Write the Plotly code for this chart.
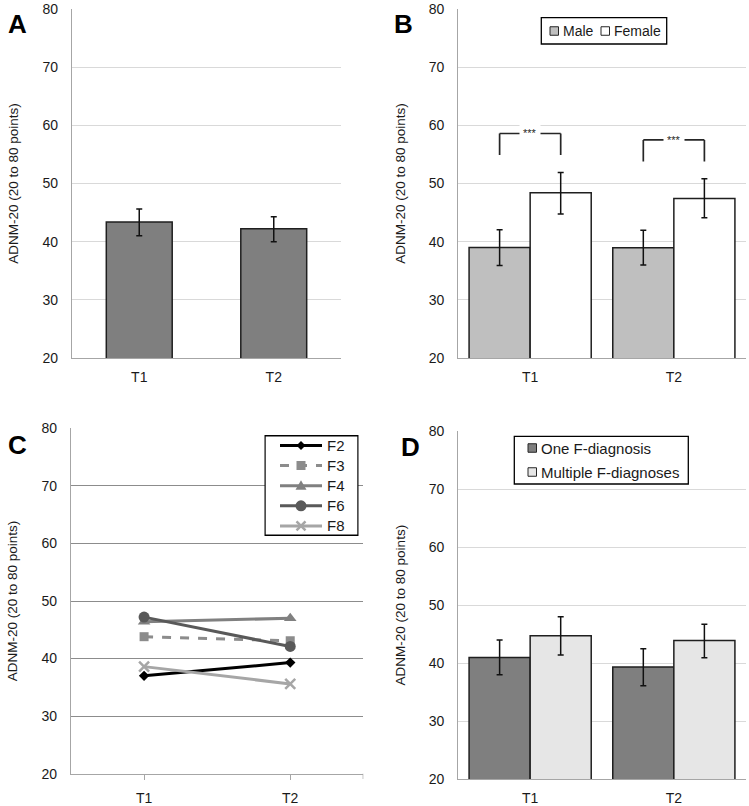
import plotly.graph_objects as go

# ---------------- data ----------------
times = ["T1", "T2"]

# Panel A: total sample
a_mean = [43.4, 42.2]
a_hi = [45.6, 44.3]
a_lo = [41.0, 40.0]

# Panel B: gender
b_male_mean = [39.0, 38.95]
b_male_hi = [42.05, 41.95]
b_male_lo = [35.9, 36.0]
b_fem_mean = [48.4, 47.4]
b_fem_hi = [51.9, 50.8]
b_fem_lo = [44.75, 44.1]
b_sig = ["***", "***"]

# Panel C: diagnosis groups
c_groups = ["F2", "F3", "F4", "F6", "F8"]
c_values = {
    "F2": [37.0, 39.3],
    "F3": [43.8, 43.1],
    "F4": [46.4, 47.0],
    "F6": [47.2, 42.1],
    "F8": [38.6, 35.6],
}

# Panel D: number of diagnoses
d_one_mean = [41.0, 39.35]
d_one_hi = [44.0, 42.5]
d_one_lo = [38.0, 36.1]
d_mult_mean = [44.75, 43.9]
d_mult_hi = [48.0, 46.7]
d_mult_lo = [41.4, 40.95]

y_ticks = [20, 30, 40, 50, 60, 70, 80]
y_title = "ADNM-20 (20 to 80 points)"
panel_letters = ["A", "B", "C", "D"]

# ---------------- styles ----------------
FONT = "Arial, Liberation Sans, sans-serif"
TXT = "#1a1a1a"
W, H = 749, 806
xpos = [0, 1]

def px_x(a, b):
    return [a / W, b / W]

def px_y(top, bottom):
    return [1 - bottom / H, 1 - top / H]

def err(mean, hi, lo):
    return dict(type="data", symmetric=False,
                array=[h - m for h, m in zip(hi, mean)],
                arrayminus=[m - l for m, l in zip(mean, lo)],
                color="#111111", thickness=1.5, width=3)

fig = go.Figure()

bar_line = dict(color="#1f1f1f", width=1.5)
male_col, fem_col = "#bfbfbf", "#ffffff"
one_col, mult_col = "#7f7f7f", "#e6e6e6"

# Panel A
fig.add_trace(go.Bar(x=xpos, y=a_mean, width=0.49, marker=dict(color="#7f7f7f", line=bar_line),
                     error_y=err(a_mean, a_hi, a_lo), xaxis="x", yaxis="y", showlegend=False))

# Panel B
fig.add_trace(go.Bar(x=xpos, y=b_male_mean, width=0.425, offset=-0.425, name="Male",
                     marker=dict(color=male_col, line=bar_line),
                     error_y=err(b_male_mean, b_male_hi, b_male_lo),
                     xaxis="x2", yaxis="y2", showlegend=False))
fig.add_trace(go.Bar(x=xpos, y=b_fem_mean, width=0.425, offset=0.0, name="Female",
                     marker=dict(color=fem_col, line=bar_line),
                     error_y=err(b_fem_mean, b_fem_hi, b_fem_lo),
                     xaxis="x2", yaxis="y2", showlegend=False))

# Panel C
c_styles = {
    "F2": dict(color="#000000", dash="solid", symbol="diamond", size=8),
    "F3": dict(color="#8c8c8c", dash="dash", symbol="square", size=9),
    "F4": dict(color="#808080", dash="solid", symbol="triangle-up", size=11),
    "F6": dict(color="#595959", dash="solid", symbol="circle", size=11),
    "F8": dict(color="#a6a6a6", dash="solid", symbol="x-thin", size=10),
}

def c_marker(s):
    return dict(symbol=s["symbol"], size=s["size"], color=s["color"],
                line=dict(color=s["color"], width=2.5 if s["symbol"] == "x-thin" else 0))

for g in c_groups:
    s = c_styles[g]
    fig.add_trace(go.Scatter(x=xpos, y=c_values[g], mode="lines+markers", name=g,
                             line=dict(color=s["color"], width=3, dash=s["dash"]),
                             marker=c_marker(s), xaxis="x3", yaxis="y3", showlegend=False))

# Panel D
fig.add_trace(go.Bar(x=xpos, y=d_one_mean, width=0.425, offset=-0.425, name="One F-diagnosis",
                     marker=dict(color=one_col, line=bar_line),
                     error_y=err(d_one_mean, d_one_hi, d_one_lo),
                     xaxis="x4", yaxis="y4", showlegend=False))
fig.add_trace(go.Bar(x=xpos, y=d_mult_mean, width=0.425, offset=0.0, name="Multiple F-diagnoses",
                     marker=dict(color=mult_col, line=bar_line),
                     error_y=err(d_mult_mean, d_mult_hi, d_mult_lo),
                     xaxis="x4", yaxis="y4", showlegend=False))

# ---------------- axes ----------------
domains = {
    1: (px_x(72, 341), px_y(9, 358)),
    2: (px_x(458.3, 745.7), px_y(9, 358)),
    3: (px_x(71, 363.3), px_y(428.3, 773.7)),
    4: (px_x(458.3, 745.7), px_y(431, 779.3)),
}
layout_axes = {}
for i in range(1, 5):
    xd, yd = domains[i]
    sfx = "" if i == 1 else str(i)
    grid_col = "#8c8c8c" if i == 3 else "#d9d9d9"
    layout_axes["xaxis" + sfx] = dict(
        domain=xd, anchor="y" + sfx, range=[-0.5, 1.5], tickvals=xpos, ticktext=times,
        showgrid=False, zeroline=False, showline=True, linecolor="#a6a6a6", linewidth=1.3,
        ticks="outside" if i == 3 else "", ticklen=5, tickcolor="#a6a6a6",
        tickfont=dict(family=FONT, size=14, color=TXT), ticklabelstandoff=6,
        automargin=False, fixedrange=True)
    layout_axes["yaxis" + sfx] = dict(
        domain=yd, anchor="x" + sfx, range=[20, 80], tickvals=y_ticks,
        showgrid=True, gridcolor=grid_col, gridwidth=1.2, zeroline=False,
        showline=True, linecolor="#a6a6a6", linewidth=1.3, ticks="",
        tickfont=dict(family=FONT, size=14, color=TXT), ticklabelstandoff=10,
        title=dict(text=y_title, font=dict(family=FONT, size=13.5, color=TXT), standoff=20),
        automargin=False, fixedrange=True)

# helper axis in pixel units for the panel C legend
LEG_C = (264.3, 435, 358.7, 536)
layout_axes["xaxis5"] = dict(domain=px_x(LEG_C[0], LEG_C[2]), range=[LEG_C[0], LEG_C[2]],
                             visible=False, anchor="y5", fixedrange=True)
layout_axes["yaxis5"] = dict(domain=px_y(LEG_C[1], LEG_C[3]), range=[LEG_C[3], LEG_C[1]],
                             visible=False, anchor="x5", fixedrange=True)

shapes = []
annotations = []

# extra boundary tick at end of panel C category axis
shapes.append(dict(type="line", xref="x3", yref="paper", x0=1.5, x1=1.5,
                   y0=1 - 773.7 / H, y1=1 - 779 / H, line=dict(color="#a6a6a6", width=1.3)))

# significance brackets in panel B (centred over bars)
for i, sig in enumerate(b_sig):
    xl = xpos[i] - 0.425 / 2
    xr = xpos[i] + 0.425 / 2
    top = b_fem_hi[i] + 6.7
    leg = top - 3.7
    for (x0, y0, x1, y1) in [(xl, leg, xl, top), (xl, top, xr, top), (xr, top, xr, leg)]:
        shapes.append(dict(type="line", xref="x2", yref="y2", x0=x0, y0=y0, x1=x1, y1=y1,
                           line=dict(color="#262626", width=1.7)))
    annotations.append(dict(xref="x2", yref="y2", x=xpos[i], y=top, text=sig, showarrow=False,
                            font=dict(family=FONT, size=11, color="#262626"),
                            bgcolor="#ffffff", borderpad=3, yshift=0))

# panel letters
letter_pos = [(17.5, 24), (403, 24), (17, 445), (410, 447)]
for letter, (lx, ly) in zip(panel_letters, letter_pos):
    annotations.append(dict(xref="paper", yref="paper", x=lx / W, y=1 - ly / H, text="<b>%s</b>" % letter,
                            showarrow=False, xanchor="center", yanchor="middle",
                            font=dict(family=FONT, size=26, color="#000000")))

# legend boxes for B and D
def legend_box(x0, y0, x1, y1):
    shapes.append(dict(type="rect", xref="paper", yref="paper", x0=x0 / W, x1=x1 / W,
                       y0=1 - y1 / H, y1=1 - y0 / H, line=dict(color="#000000", width=1.3),
                       fillcolor="#ffffff", layer="above"))

def legend_item(sx, sy, color, label, size=14):
    s = 8.5
    shapes.append(dict(type="rect", xref="paper", yref="paper", x0=sx / W, x1=(sx + s) / W,
                       y0=1 - (sy + s / 2) / H, y1=1 - (sy - s / 2) / H,
                       line=dict(color="#262626", width=1), fillcolor=color, layer="above"))
    annotations.append(dict(xref="paper", yref="paper", x=(sx + s + 2) / W, y=1 - sy / H, text=label,
                            showarrow=False, xanchor="left", yanchor="middle",
                            font=dict(family=FONT, size=size, color=TXT)))

legend_box(541.3, 17.7, 666.7, 44)
legend_item(550, 31, male_col, "Male")
legend_item(601, 31, fem_col, "Female")

legend_box(514.3, 436.3, 688.3, 484)
legend_item(528, 448, one_col, "One F-diagnosis", 15)
legend_item(528, 472, mult_col, "Multiple F-diagnoses", 15)

# panel C legend: opaque box + glyph shapes (pixel units on helper axis) + labels
def lshape(**kw):
    d = dict(xref="x5", yref="y5", layer="above")
    d.update(kw)
    shapes.append(d)

lshape(type="rect", x0=LEG_C[0] + 0.7, x1=LEG_C[2] - 0.7, y0=LEG_C[1] + 0.7, y1=LEG_C[3] - 0.7,
       line=dict(color="#000000", width=1.4), fillcolor="#ffffff")
for k, g in enumerate(c_groups):
    s = c_styles[g]
    col = s["color"]
    cy = 445.5 + 20.1 * k
    cx = 301
    lshape(type="line", x0=280, x1=322, y0=cy, y1=cy, line=dict(color=col, width=3, dash=s["dash"]))
    sym = s["symbol"]
    if sym == "diamond":
        r = 4.5
        lshape(type="path", path=f"M{cx},{cy-r} L{cx+r},{cy} L{cx},{cy+r} L{cx-r},{cy} Z",
               fillcolor=col, line=dict(color=col, width=0))
    elif sym == "square":
        r = 4.5
        lshape(type="rect", x0=cx - r, x1=cx + r, y0=cy - r, y1=cy + r,
               fillcolor=col, line=dict(color=col, width=0))
    elif sym == "triangle-up":
        lshape(type="path", path=f"M{cx},{cy-5.5} L{cx+5.5},{cy+4} L{cx-5.5},{cy+4} Z",
               fillcolor=col, line=dict(color=col, width=0))
    elif sym == "circle":
        r = 5.5
        lshape(type="circle", x0=cx - r, x1=cx + r, y0=cy - r, y1=cy + r,
               fillcolor=col, line=dict(color=col, width=0))
    else:
        r = 4.5
        lshape(type="path", path=f"M{cx-r},{cy-r} L{cx+r},{cy+r} M{cx-r},{cy+r} L{cx+r},{cy-r}",
               line=dict(color=col, width=2.5))
    annotations.append(dict(xref="x5", yref="y5", x=324.5, y=cy, text=g, showarrow=False,
                            xanchor="left", yanchor="middle",
                            font=dict(family=FONT, size=15, color=TXT)))

fig.update_layout(
    width=W, height=H,
    margin=dict(l=0, r=0, t=0, b=0),
    paper_bgcolor="#ffffff", plot_bgcolor="rgba(0,0,0,0)",
    barmode="overlay",
    showlegend=False,
    shapes=shapes, annotations=annotations,
    **layout_axes,
)

fig.write_html("out.html", config={"displayModeBar": False},
               post_script="document.body.style.margin='0';document.body.style.overflow='hidden';")
